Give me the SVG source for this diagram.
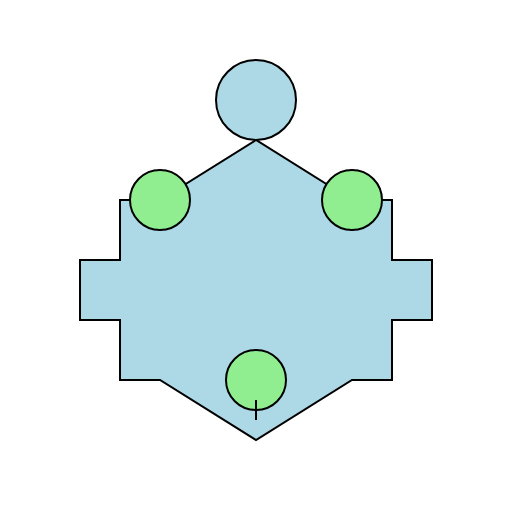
<svg xmlns="http://www.w3.org/2000/svg" width="512" height="512" viewBox="0 0 512 512">
<style>
.body{fill:#add8e6;stroke:#000;stroke-width:2}
.joint{fill:#90ee90;stroke:#000;stroke-width:2}
.head{fill:#add8e6;stroke:#000;stroke-width:2}
.tick{stroke:#000;stroke-width:2;fill:none}
</style>
<rect width="512" height="512" fill="#fff"/>
<g id="body">
<polygon class="body" points="256,140 160,200 120,200 120,260 80,260 80,320 120,320 120,380 160,380 256,440 352,380 392,380 392,320 432,320 432,260 392,260 392,200 352,200"/>
</g>
<g id="head"><circle class="head" cx="256" cy="100" r="40"/></g>
<g id="left-joint"><circle class="joint" cx="160" cy="200" r="30"/></g>
<g id="right-joint"><circle class="joint" cx="352" cy="200" r="30"/></g>
<g id="bottom-joint"><circle class="joint" cx="256" cy="380" r="30"/></g>
<g id="connectors"><line class="tick" x1="256" y1="400" x2="256" y2="420"/></g>
</svg>
